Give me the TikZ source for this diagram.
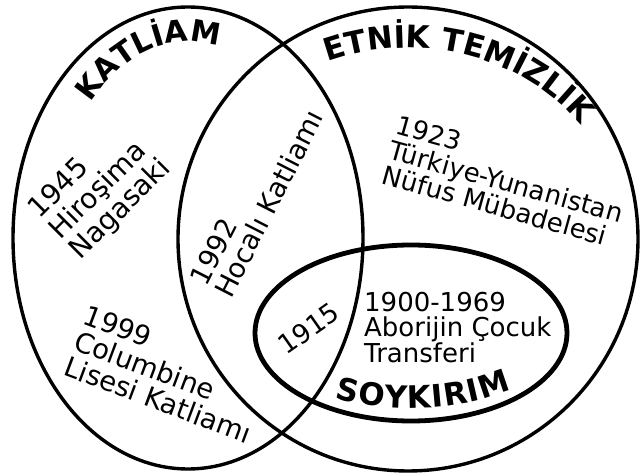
\documentclass[tikz,border=0pt]{standalone}
\usepackage{fontspec}
\setmainfont{DejaVu Sans}
\usetikzlibrary{decorations.text}
\newcommand\vennTitleFont{\fontsize{31}{31}\selectfont\bfseries}
\newcommand\vennTitleFontB{\fontsize{30}{30}\selectfont\bfseries}
\begin{document}
\begin{tikzpicture}[x=1pt,y=1pt,
  ring/.style={draw=black, line width=3.4pt},
  innerring/.style={draw=black, line width=4.8pt},
  body/.style={font=\fontsize{#1}{#1}\selectfont, align=left, inner sep=0pt, text=black},
  body/.default=26,
  titlepath/.style={decorate, decoration={text along path, text align=fit to path, text={|\vennTitleFont|#1}}},
  titlecentred/.style={decorate, decoration={text along path, text align=center, text={|\vennTitleFontB|#1}}}]
\fill[white] (0,0) rectangle (641,475);
\useasboundingbox (0,0) rectangle (641,475);
% sets
\draw[ring] (188,237) ellipse [x radius=175, y radius=231];
\draw[ring] (408,236) ellipse [x radius=230, y radius=232];
\draw[innerring] (411,142) ellipse [x radius=156, y radius=88];
% titles
\path[titlecentred={KATLİAM}] (82.41,357.67) arc[start angle=142, end angle=70, x radius=134, y radius=196];
\path[titlepath={ETNİK TEMİZLİK}] (327.46,413.09) arc[start angle=112, end angle=39, x radius=215, y radius=191];
\path[titlepath={SOYKIRIM}] (334.5,77.0) arc[start angle=240, end angle=311, x radius=153, y radius=76];
% members
\node[body=28, rotate=45, font=\fontsize{28}{29}\selectfont] (hiro) at (100.5,285.7) {1945\\Hiroşima\\Nagasaki};
\node[body=27.5, rotate=63] (hocali) at (256.5,277.5) {1992\\Hocalı Katliamı};
\node[body=26, rotate=-15.6] (turk) at (506.5,293.3) {1923\\Türkiye-Yunanistan\\Nüfus Mübadelesi};
\node[body=27.5, rotate=-20.5] (colum) at (167.8,100.9) {1999\\Columbine\\Lisesi Katliamı};
\node[body=26.5, rotate=35] (y1915) at (308.5,146.5) {1915};
\node[body=26, anchor=north west, font=\fontsize{26}{25.5}\selectfont] (abor) at (364,183) {1900-1969\\Aborijin Çocuk\\Transferi};
\end{tikzpicture}
\end{document}
